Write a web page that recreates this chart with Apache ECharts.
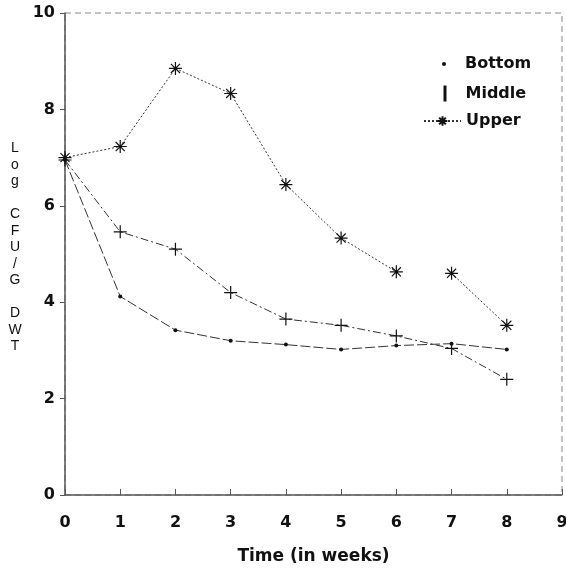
<!DOCTYPE html>
<html>
<head>
<meta charset="utf-8">
<script src="https://cdn.jsdelivr.net/npm/echarts@6/dist/echarts.min.js"></script>
<style>
  html, body { margin: 0; padding: 0; background: #fff; }
  #chart { width: 566px; height: 569px; }
</style>
</head>
<body>
<div id="chart"></div>
<script>
// weeks and log CFU/g DWT
var weeks = [0, 1, 2, 3, 4, 5, 6, 7, 8];
var bottom = [6.95, 4.12, 3.42, 3.2, 3.12, 3.02, 3.1, 3.14, 3.02];
var middle = [6.95, 5.46, 5.1, 4.2, 3.65, 3.52, 3.3, 3.04, 2.4];
var upper = [7.0, 7.23, 8.85, 8.33, 6.44, 5.33, 4.63, 4.6, 3.52];
var upperBreakAfter = 6; // no line drawn between week 6 and 7
var yTicks = [0, 2, 4, 6, 8, 10];

var plusPath = 'path://M5,0 L5,10 M0,5 L10,5';
var starPath = 'path://M5,0 L5,10 M0,5 L10,5 M1.5,1.5 L8.5,8.5 M8.5,1.5 L1.5,8.5';

function pairs(ys) {
    return weeks.map(function (w, i) { return [w, ys[i]]; });
}
function withBreak(ys, after) {
    var res = [];
    for (var i = 0; i < weeks.length; i++) {
        res.push([weeks[i], ys[i]]);
        if (i === after) res.push([(weeks[i] + weeks[i + 1]) / 2, '-']);
    }
    return res;
}

var font = '"DejaVu Sans", "Liberation Sans", sans-serif';
var ink = '#111';
var legendText = { fontFamily: font, fontSize: 16, color: ink, fontWeight: 'bold' };

// one legend per series so each can have its own key size
function legendFor(name, top, left, w, h, extra) {
    var l = {
        orient: 'vertical', top: top, left: left,
        itemWidth: w, itemHeight: h,
        textStyle: legendText,
        data: [name]
    };
    for (var k in extra) l[k] = extra[k];
    return l;
}

var option = {
    animation: false,
    backgroundColor: '#fff',
    grid: { left: 65, right: 4, top: 13, bottom: 74, containLabel: false, outerBoundsMode: 'none' },
    legend: [
        legendFor('Bottom', 51, 437, 4, 4, {
            data: [{ name: 'Bottom', icon: 'circle' }],
            textStyle: Object.assign({ padding: [0, 0, 0, 14] }, legendText)
        }),
        legendFor('Middle', 79, 437, 1, 14, {
            data: [{ name: 'Middle', icon: 'path://M0,0 L1,0 L1,14 L0,14 Z' }],
            textStyle: Object.assign({ padding: [0, 0, 0, 15] }, legendText)
        }),
        legendFor('Upper', 108, 418, 37, 12, {
            textStyle: Object.assign({ padding: [0, 0, 0, 0] }, legendText)
        })
    ],
    xAxis: {
        type: 'value',
        min: 0, max: 9, interval: 1,
        name: 'Time (in weeks)',
        nameLocation: 'middle',
        nameGap: 53,
        nameTextStyle: { fontFamily: font, fontSize: 17, color: ink, fontWeight: 'bold' },
        axisLine: { lineStyle: { color: '#555', width: 1.5 } },
        axisTick: { inside: true, length: 6, lineStyle: { color: '#555' } },
        axisLabel: { fontFamily: font, fontSize: 16, color: ink, margin: 20, fontWeight: 'bold' },
        splitLine: { show: false }
    },
    yAxis: {
        type: 'value',
        min: 0, max: 10, interval: 2,
        axisLine: { show: true, lineStyle: { color: '#555', width: 1.5 } },
        axisTick: { show: true, length: 5, lineStyle: { color: '#555' } },
        axisLabel: {
            fontFamily: font, fontSize: 16, color: ink, margin: 10, fontWeight: 'bold',
            formatter: function (v) { return yTicks.indexOf(v) >= 0 ? String(v) : ''; }
        },
        splitLine: { show: false }
    },
    graphic: [
        {
            type: 'rect',
            shape: { x: 65, y: 13, width: 497, height: 482 },
            style: { fill: 'none', stroke: '#888', lineWidth: 1, lineDash: [6, 4] },
            silent: true
        },
        {
            type: 'text',
            x: 15,
            y: 140,
            style: {
                text: 'L\no\ng\n\nC\nF\nU\n/\nG\n\nD\nW\nT',
                fontFamily: '"Liberation Sans", Arial, sans-serif',
                fontSize: 14,
                lineHeight: 16.5,
                fill: ink,
                align: 'center'
            }
        }
    ],
    series: [
        {
            name: 'Bottom',
            type: 'line',
            data: pairs(bottom),
            symbol: 'circle',
            symbolSize: 4,
            itemStyle: { color: ink },
            lineStyle: { color: '#333', width: 1, type: [10, 3] }
        },
        {
            name: 'Middle',
            type: 'line',
            data: pairs(middle),
            symbol: plusPath,
            symbolSize: 13,
            itemStyle: { color: 'none', borderColor: ink, borderWidth: 1.2 },
            lineStyle: { color: '#333', width: 1, type: [8, 3, 2, 3] }
        },
        {
            name: 'Upper',
            type: 'line',
            data: withBreak(upper, upperBreakAfter),
            connectNulls: false,
            symbol: starPath,
            symbolSize: 13,
            itemStyle: { color: 'none', borderColor: ink, borderWidth: 1.2 },
            lineStyle: { color: '#333', width: 1, type: [2, 2] }
        }
    ]
};

var myChart = echarts.init(document.getElementById('chart'));
myChart.setOption(option);
</script>
</body>
</html>
